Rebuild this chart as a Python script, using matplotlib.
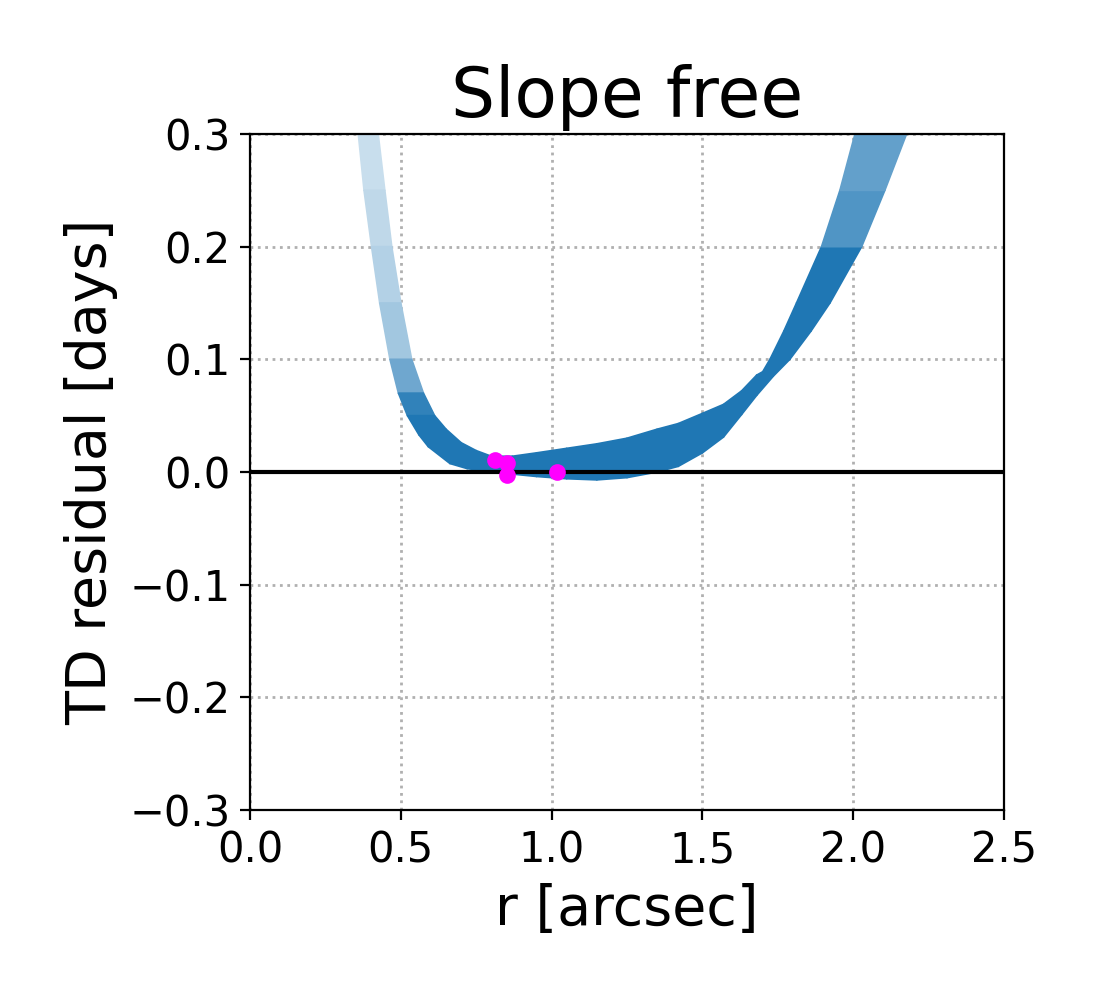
import numpy as np
import matplotlib.pyplot as plt
from matplotlib.collections import PolyCollection
from matplotlib.colors import to_rgb

lo_x = [0.359, 0.378, 0.403, 0.430, 0.464, 0.492, 0.522, 0.560, 0.591, 0.663, 0.720, 0.800,
        0.950, 1.050, 1.150, 1.250, 1.350, 1.420, 1.500, 1.570, 1.630, 1.680, 1.735,
        1.790, 1.860, 1.923, 2.028, 2.105, 2.177]
lo_y = [0.300, 0.250, 0.200, 0.150, 0.100, 0.070, 0.050, 0.033, 0.0225, 0.0075, 0.003, 0.000,
        -0.004, -0.006, -0.007, -0.005, 0.000, 0.005, 0.017, 0.031, 0.051, 0.068, 0.085,
        0.100, 0.125, 0.150, 0.200, 0.250, 0.300]
up_x = [0.425, 0.447, 0.470, 0.500, 0.536, 0.575, 0.612, 0.650, 0.700, 0.750, 0.800, 0.870,
        0.950, 1.050, 1.150, 1.250, 1.350, 1.420, 1.500, 1.570, 1.630, 1.680, 1.700,
        1.724, 1.770, 1.812, 1.895, 1.956, 2.006]
up_y = [0.300, 0.250, 0.200, 0.150, 0.100, 0.070, 0.050, 0.038, 0.026, 0.019, 0.014, 0.014,
        0.017, 0.021, 0.025, 0.030, 0.038, 0.043, 0.052, 0.060, 0.072, 0.086, 0.089,
        0.100, 0.125, 0.150, 0.200, 0.250, 0.300]

# measured image positions
img_r = [0.812, 0.851, 0.851, 1.019]
img_res = [0.0106, 0.0077, -0.0027, -0.0003]

xticks = [0.0, 0.5, 1.0, 1.5, 2.0, 2.5]
yticks = [-0.3, -0.2, -0.1, 0.0, 0.1, 0.2, 0.3]

fig = plt.figure(figsize=(5.5, 5), dpi=200)
ax = fig.add_axes([0.2273, 0.19, 0.6854, 0.676])
ax.set_xlim(0, 2.5)
ax.set_ylim(-0.3, 0.3)

lo = np.column_stack([lo_x, lo_y])
up = np.column_stack([up_x, up_y])

# steep parts of the band are sparser -> lighter
mid = (ax.transData.transform(lo) + ax.transData.transform(up)) / 2
d = np.diff(mid, axis=0)
flat = np.abs(d[:, 0]) / np.hypot(d[:, 0], d[:, 1])
alpha = np.clip(2.25 * flat, 0.2, 1.0)

base = np.array(to_rgb('C0'))
cols = [tuple(1 - a * (1 - base)) for a in alpha]   # blended on white
quads = [[lo[i], lo[i + 1], up[i + 1], up[i]] for i in range(len(lo) - 1)]
pc = PolyCollection(quads, facecolors=cols, edgecolors=cols, linewidths=0.6, zorder=1)
ax.add_collection(pc)

ax.axhline(0, color='k', lw=1.5, zorder=2)
ax.plot(img_r, img_res, 'o', color='magenta', ms=5, zorder=3)

ax.set_xticks(xticks)
ax.set_yticks(yticks)
ax.xaxis.set_major_formatter(plt.FormatStrFormatter('%.1f'))
ax.yaxis.set_major_formatter(plt.FuncFormatter(lambda v, p: f'{v:.1f}'.replace('-', '\u2212')))
ax.tick_params(labelsize=15)
ax.grid(True, ls=':', color='#b0b0b0', lw=1)
ax.set_axisbelow(True)

ax.set_xlabel('r [arcsec]', fontsize=20)
ax.set_ylabel('TD residual [days]', fontsize=20)
ax.set_title('Slope free', fontsize=25)

fig.savefig('out.png', dpi=200)
